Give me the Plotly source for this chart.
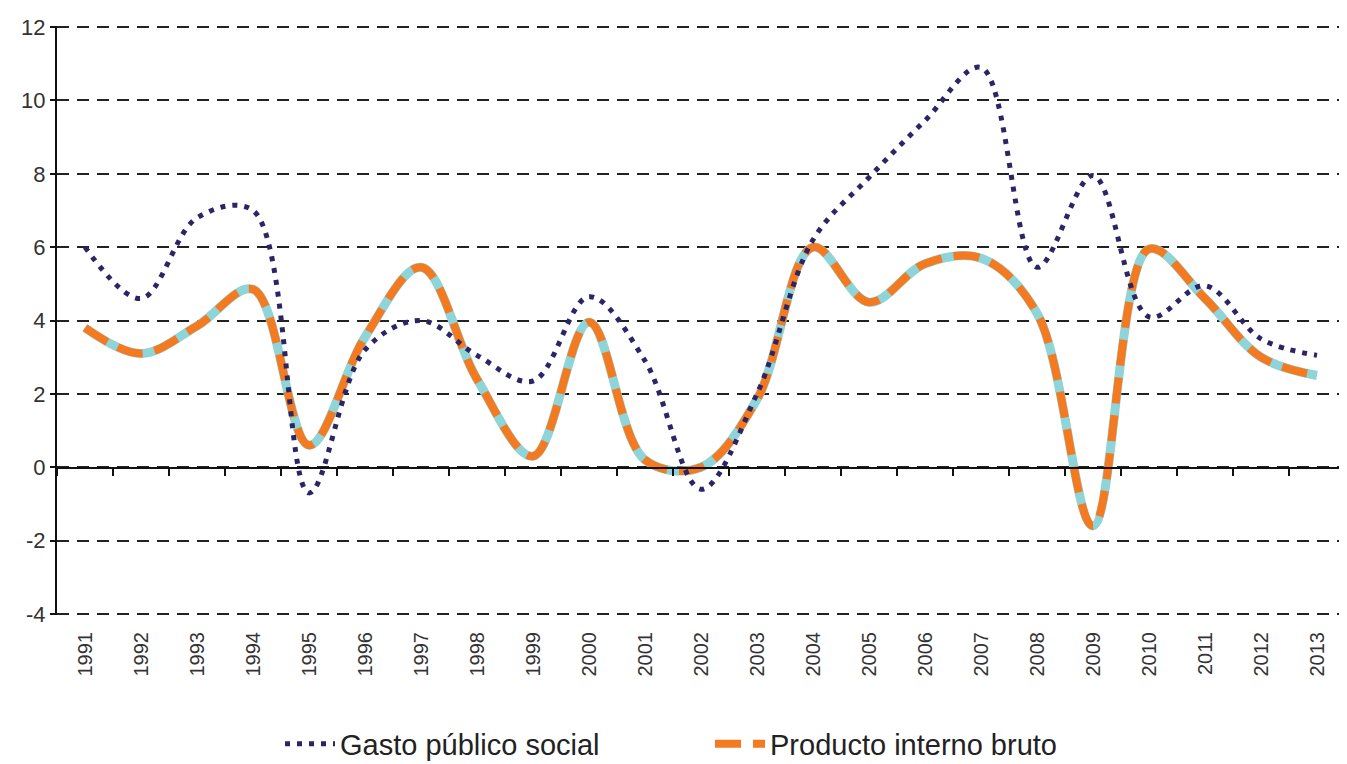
"""Gasto público social vs PIB, variación anual (%)."""

import plotly.graph_objects as go

years = [str(y) for y in range(1991, 2014)]

gasto_social = [6.0, 4.6, 6.8, 7.0, -0.7, 3.2, 4.0, 3.05, 2.35, 4.65, 2.9, -0.6,
                2.0, 6.2, 7.9, 9.45, 10.9, 5.45, 7.95, 4.1, 4.95, 3.5, 3.05]

pib = [3.8, 3.1, 3.85, 4.85, 0.6, 3.55, 5.45, 2.4, 0.3, 3.95, 0.2, 0.0,
       1.85, 6.0, 4.5, 5.55, 5.7, 4.2, -1.6, 5.95, 4.6, 3.0, 2.5]

y_ticks = list(range(-4, 13, 2))
y_ticktext = [str(v) for v in y_ticks]

_C = {
    "gasto": "#2B2566",
    "pib": "#F47A22",
    "pib_under": "#8FD4D8",
    "grid": "#222222",
    "text": "#333333",
}

# la pagina html deja 8px de margen en el body
W, H = 1339, 756

fig = go.Figure()

# linea de soporte turquesa bajo el PIB
fig.add_trace(go.Scatter(
    x=years, y=pib, mode="lines", showlegend=False, hoverinfo="skip",
    line=dict(color=_C["pib_under"], width=9, shape="spline", smoothing=1.0),
))
fig.add_trace(go.Scatter(
    x=years, y=pib, mode="lines", name="Producto interno bruto",
    line=dict(color=_C["pib"], width=8, dash="26px,12px", shape="spline", smoothing=1.0),
))
fig.add_trace(go.Scatter(
    x=years, y=gasto_social, mode="lines", name="Gasto público social",
    line=dict(color=_C["gasto"], width=5, dash="5px,7px", shape="spline", smoothing=1.0),
))
# traza invisible para el eje con etiquetas abajo
fig.add_trace(go.Scatter(
    x=years, y=pib, xaxis="x2", mode="lines", showlegend=False, hoverinfo="skip",
    line=dict(color="rgba(0,0,0,0)", width=0),
))

fig.update_layout(
    width=W,
    height=H,
    plot_bgcolor="white",
    paper_bgcolor="white",
    margin=dict(l=49, r=2, t=18, b=149),
    font=dict(family="Liberation Sans, Arial, sans-serif", color=_C["text"]),
    xaxis=dict(
        type="category",
        categoryorder="array",
        categoryarray=years,
        range=[-0.5, 22.5],
        anchor="free",
        position=0.25,
        showline=True,
        linecolor="#111111",
        linewidth=2,
        ticks="outside",
        tickson="boundaries",
        ticklen=7,
        tickwidth=2,
        tickcolor="#111111",
        showticklabels=False,
        showgrid=False,
        zeroline=False,
        automargin=False,
    ),
    xaxis2=dict(
        type="category",
        categoryorder="array",
        categoryarray=years,
        range=[-0.5, 22.5],
        overlaying="x",
        anchor="y",
        side="bottom",
        showline=False,
        ticks="",
        ticklabelstandoff=12,
        tickangle=-90,
        tickfont=dict(size=20, color=_C["text"]),
        showgrid=False,
        zeroline=False,
        automargin=False,
    ),
    yaxis=dict(
        range=[-4.03, 12.03],
        tickvals=y_ticks,
        ticktext=y_ticktext,
        showline=True,
        linecolor="#111111",
        linewidth=2,
        ticks="outside",
        ticklen=5,
        tickwidth=2,
        tickcolor="#111111",
        tickfont=dict(size=22, color=_C["text"]),
        showgrid=True,
        gridcolor=_C["grid"],
        gridwidth=2,
        griddash="12px,8px",
        zeroline=False,
        automargin=False,
    ),
    legend=dict(
        orientation="h",
        xref="container",
        x=272 / W,
        xanchor="left",
        yref="container",
        y=20 / H,
        yanchor="middle",
        font=dict(size=29, color="#222222"),
        traceorder="reversed",
        entrywidth=365,
        itemwidth=50,
    ),
)

fig.write_html("out.html")
